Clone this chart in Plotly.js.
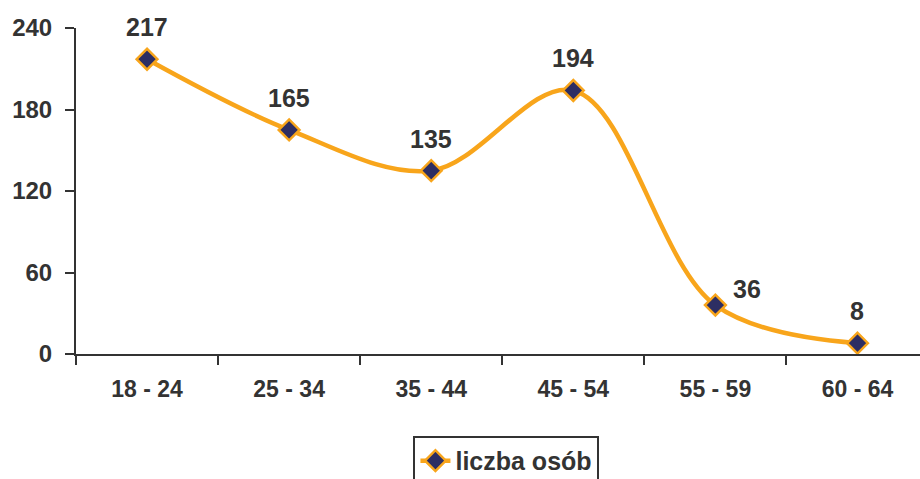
<!DOCTYPE html>
<html>
<head>
<meta charset="utf-8">
<script src="https://cdn.plot.ly/plotly-3.0.1.min.js"></script>
<style>html,body{margin:0;padding:0;background:#fff;}#chart{width:920px;height:479px;}</style>
</head>
<body>
<div id="chart"></div>
<script>
const categories = ['18 - 24', '25 - 34', '35 - 44', '45 - 54', '55 - 59', '60 - 64'];
const values = [217, 165, 135, 194, 36, 8];
const seriesName = 'liczba osób';
const yTicks = [0, 60, 120, 180, 240];

const fam = 'Liberation Sans, Arial, sans-serif';
const txt = '#333333';
const orange = '#F8A51B';
const navy = '#2D2E63';

const trace = {
  x: categories,
  y: values,
  name: seriesName,
  type: 'scatter',
  mode: 'lines+markers',
  line: {color: orange, width: 4.5, shape: 'spline', smoothing: 1},
  marker: {symbol: 'diamond', size: 16, color: navy, line: {color: orange, width: 2.5}},
  cliponaxis: false
};

const annotations = values.map((v, i) => {
  const side = (i === 4);
  return {
    x: categories[i], y: v, xref: 'x', yref: 'y',
    text: '<b>' + v + '</b>', showarrow: false,
    font: {family: fam, size: 25, color: txt},
    xshift: side ? 32 : 0,
    yshift: side ? 16 : 32
  };
});

const layout = {
  width: 920, height: 479,
  margin: {l: 76, r: 0, t: 28, b: 125},
  paper_bgcolor: '#ffffff', plot_bgcolor: '#ffffff',
  font: {family: fam, size: 24, color: txt},
  showlegend: true,
  legend: {
    orientation: 'h', xref: 'paper', yref: 'container',
    x: 0.51, xanchor: 'center', y: 0.09, yanchor: 'top',
    bordercolor: '#333333', borderwidth: 2,
    font: {family: fam, size: 25, color: txt, weight: 'bold'}
  },
  xaxis: {
    type: 'category', range: [-0.5, 5.44],
    showline: true, linecolor: '#333333', linewidth: 2,
    ticks: 'outside', tickson: 'boundaries', ticklen: 9, tickwidth: 2, tickcolor: '#333333',
    showgrid: false, zeroline: false,
    tickfont: {family: fam, size: 23, color: txt, weight: 'bold'},
    ticklabelstandoff: 13
  },
  yaxis: {
    range: [0, 240], tickvals: yTicks, ticktext: yTicks.map(String),
    showline: true, linecolor: '#333333', linewidth: 2,
    ticks: 'outside', ticklen: 9, tickwidth: 2, tickcolor: '#333333',
    showgrid: false, zeroline: false,
    tickfont: {family: fam, size: 24, color: txt, weight: 'bold'},
    ticklabelstandoff: 8
  },
  annotations: annotations
};

Plotly.newPlot('chart', [trace], layout, {displayModeBar: false, staticPlot: true});
</script>
</body>
</html>
